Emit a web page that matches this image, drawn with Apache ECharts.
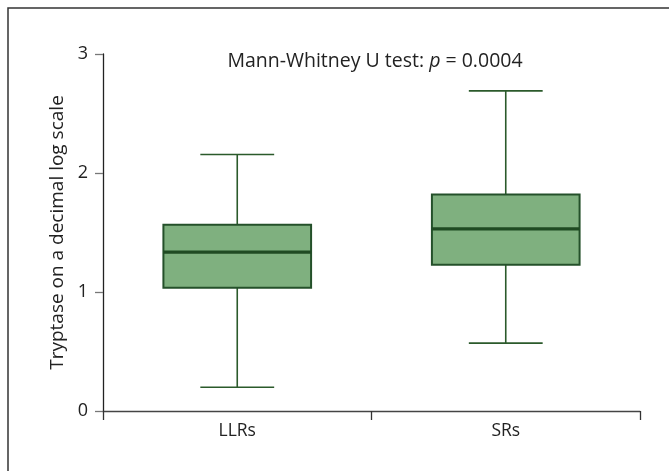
<!DOCTYPE html>
<html><head><meta charset="utf-8">
<script src="https://cdn.jsdelivr.net/npm/echarts@6/dist/echarts.min.js"></script>
<style>html,body{margin:0;padding:0;background:#fff}#c{width:669px;height:471px}</style>
</head><body><div id="c"></div>
<script>
var categories = ['LLRs', 'SRs'];
var mins    = [0.20, 0.57];
var q1s     = [1.035, 1.23];
var medians = [1.335, 1.53];
var q3s     = [1.565, 1.82];
var maxs    = [2.155, 2.69];
var yTicks  = [0, 1, 2, 3];
var testLabel = 'Mann-Whitney U test: ';
var pLabel = 'p';
var pValue = ' = 0.0004';

var FONT = 'Open Sans';
var data = categories.map(function (c, i) { return [i, mins[i], q1s[i], medians[i], q3s[i], maxs[i]]; });

var chart = echarts.init(document.getElementById('c'), null, {renderer: 'canvas'});
chart.setOption({
  animation: false,
  backgroundColor: '#fff',
  grid: {left: 103, right: 29, top: 54, bottom: 60},
  xAxis: {
    type: 'category', data: categories, boundaryGap: true,
    axisLine: {lineStyle: {color: '#444', width: 1.3}},
    axisTick: {show: true, length: 9, alignWithLabel: false, lineStyle: {color: '#333', width: 1.3}},
    axisLabel: {fontFamily: FONT, fontSize: 17.5, color: '#222', margin: 11}
  },
  yAxis: {
    type: 'value', min: yTicks[0], max: yTicks[yTicks.length - 1], interval: 1,
    name: 'Tryptase on a decimal log scale', nameLocation: 'middle', nameGap: 17,
    nameTextStyle: {fontFamily: FONT, fontSize: 19, color: '#222'},
    axisLine: {show: true, lineStyle: {color: '#222', width: 1.3}},
    axisTick: {show: true, length: 8, lineStyle: {color: '#777', width: 1.3}},
    axisLabel: {fontFamily: FONT, fontSize: 18, color: '#222', margin: 15},
    splitLine: {show: false}
  },
  graphic: [
    {type: 'rect', shape: {x: 8, y: 8, width: 720, height: 520}, style: {fill: 'none', stroke: '#333', lineWidth: 1.5}, silent: true},
    {type: 'text', x: 375, y: 61, style: {
      text: testLabel + '{i|' + pLabel + '}' + pValue,
      rich: {i: {fontStyle: 'italic', fontFamily: FONT, fontSize: 19.5, fill: '#222'}},
      fontFamily: FONT, fontSize: 19.5, fill: '#222', textAlign: 'center', textVerticalAlign: 'middle'
    }}
  ],
  series: [{
    type: 'custom',
    data: data,
    encode: {x: 0, y: [1, 2, 3, 4, 5]},
    renderItem: function (params, api) {
      var cat = api.value(0);
      var band = api.size([1, 0])[0];
      var bw = band * 0.55, cw = bw * 0.5;
      var pMin = api.coord([cat, api.value(1)]);
      var pQ1 = api.coord([cat, api.value(2)]);
      var pMed = api.coord([cat, api.value(3)]);
      var pQ3 = api.coord([cat, api.value(4)]);
      var pMax = api.coord([cat, api.value(5)]);
      var cx = pMed[0];
      var wStyle = {stroke: '#2b5a2b', lineWidth: 1.6};
      return {type: 'group', children: [
        {type: 'line', shape: {x1: cx, y1: pQ3[1], x2: cx, y2: pMax[1]}, style: wStyle},
        {type: 'line', shape: {x1: cx, y1: pQ1[1], x2: cx, y2: pMin[1]}, style: wStyle},
        {type: 'line', shape: {x1: cx - cw / 2, y1: pMax[1], x2: cx + cw / 2, y2: pMax[1]}, style: wStyle},
        {type: 'line', shape: {x1: cx - cw / 2, y1: pMin[1], x2: cx + cw / 2, y2: pMin[1]}, style: wStyle},
        {type: 'rect', shape: {x: cx - bw / 2, y: pQ3[1], width: bw, height: pQ1[1] - pQ3[1]},
          style: {fill: '#7fb07f', stroke: '#24502a', lineWidth: 2}},
        {type: 'line', shape: {x1: cx - bw / 2, y1: pMed[1], x2: cx + bw / 2, y2: pMed[1]},
          style: {stroke: '#1f4a22', lineWidth: 3.2}}
      ]};
    }
  }]
});
</script></body></html>
